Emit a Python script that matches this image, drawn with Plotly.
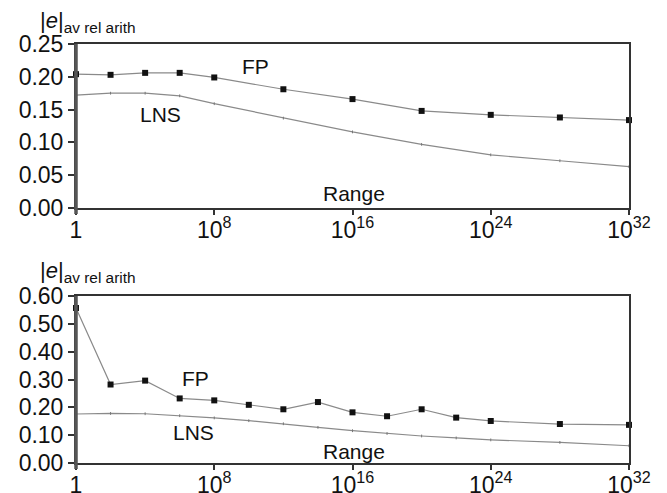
import plotly.graph_objects as go

# Range exponents (x = 10**exp)
top_exp = [0, 2, 4, 6, 8, 12, 16, 20, 24, 28, 32]
top_fp = [0.204, 0.203, 0.206, 0.206, 0.199, 0.181, 0.166, 0.148, 0.142, 0.138, 0.134]
top_lns = [0.172, 0.175, 0.175, 0.171, 0.159, 0.137, 0.116, 0.097, 0.081, 0.072, 0.063]

bot_exp = [0, 2, 4, 6, 8, 10, 12, 14, 16, 18, 20, 22, 24, 28, 32]
bot_fp = [0.557, 0.282, 0.296, 0.232, 0.225, 0.209, 0.193, 0.219, 0.182, 0.168, 0.193, 0.163, 0.151, 0.140, 0.137]
bot_lns = [0.176, 0.178, 0.177, 0.170, 0.162, 0.152, 0.141, 0.128, 0.116, 0.106, 0.097, 0.090, 0.083, 0.074, 0.062]

x_tickvals = [1, 1e8, 1e16, 1e24, 1e32]
x_ticktext = ["1", "10<sup>8</sup>", "10<sup>16</sup>", "10<sup>24</sup>", "10<sup>32</sup>"]
top_yticks = [0, 0.05, 0.10, 0.15, 0.20, 0.25]
bot_yticks = [0, 0.10, 0.20, 0.30, 0.40, 0.50, 0.60]

FONT = "Liberation Sans, Arial, sans-serif"
LINE = "#8a8a8a"

fig = go.Figure()

def add_series(xs, fp, lns, xa, ya):
    x = [10.0 ** e for e in xs]
    fig.add_trace(go.Scatter(x=x, y=lns, mode="lines+markers", xaxis=xa, yaxis=ya,
                             line=dict(color=LINE, width=1.2),
                             marker=dict(symbol="line-ns", size=2, color="#777",
                                         line=dict(color="#777", width=1)),
                             cliponaxis=False, showlegend=False))
    fig.add_trace(go.Scatter(x=x, y=fp, mode="lines+markers", xaxis=xa, yaxis=ya,
                             line=dict(color=LINE, width=1.2),
                             marker=dict(symbol="square", size=6, color="#111"),
                             cliponaxis=False, showlegend=False))

add_series(top_exp, top_fp, top_lns, "x", "y")
add_series(bot_exp, bot_fp, bot_lns, "x2", "y2")

# page body has an 8px margin, so the figure is 8px smaller and shifted
W, H = 659, 485
OFF = 8
xdom = [(76 - OFF) / W, (629 - OFF) / W]
top_dom = [1 - (208 - OFF) / H, 1 - (44 - OFF) / H]
bot_dom = [1 - (463 - OFF) / H, 1 - (296 - OFF) / H]

xcommon = dict(type="log", range=[0, 32], tickvals=x_tickvals, ticktext=x_ticktext,
               showline=True, linecolor="#333", linewidth=2, mirror=True,
               ticks="outside", ticklen=5, tickwidth=2, tickcolor="#333",
               ticklabelstandoff=-5,
               showgrid=False, zeroline=False, domain=xdom, automargin=False,
               tickfont=dict(family=FONT, size=23, color="#111"))
ycommon = dict(showline=True, linecolor="#333", linewidth=2, mirror=True,
               ticks="outside", ticklen=6, tickwidth=2, tickcolor="#333",
               showgrid=False, zeroline=False, tickformat=".2f", automargin=False,
               tickfont=dict(family=FONT, size=23, color="#111"))

fig.update_layout(
    width=W, height=H, margin=dict(l=0, r=0, t=0, b=0),
    paper_bgcolor="white", plot_bgcolor="white",
    xaxis=dict(**xcommon, anchor="y"),
    xaxis2=dict(**xcommon, anchor="y2"),
    yaxis=dict(**ycommon, range=[0, 0.25], tickvals=top_yticks, domain=top_dom, anchor="x"),
    yaxis2=dict(**ycommon, range=[0, 0.6], tickvals=bot_yticks, domain=bot_dom, anchor="x2"),
)

# thicker left axis lines
for y0, y1 in (top_dom, bot_dom):
    fig.add_shape(type="line", xref="paper", yref="paper", x0=xdom[0], x1=xdom[0],
                  y0=y0 - 6 / H, y1=y1, line=dict(color="#555", width=3.5))

ytitle = "|<i>e</i>|<sub>av rel arith</sub>"
ann = [
    dict(text=ytitle, xref="paper", yref="paper", x=30 / W, y=1.0, yshift=2),
    dict(text=ytitle, xref="paper", yref="paper", x=30 / W, y=1 - 250 / H, yshift=2),
    dict(text="FP", xref="x", yref="y", x=10.4, y=0.215),
    dict(text="LNS", xref="x", yref="y", x=4.9, y=0.142),
    dict(text="Range", xref="x", yref="y", x=16.1, y=0.022),
    dict(text="FP", xref="x2", yref="y2", x=6.9, y=0.305),
    dict(text="LNS", xref="x2", yref="y2", x=6.8, y=0.11),
    dict(text="Range", xref="x2", yref="y2", x=16.1, y=0.04),
]
for a in ann:
    a["showarrow"] = False
    a["font"] = dict(family=FONT, size=21, color="#111")
    if a["xref"] == "paper":
        a["xanchor"] = "left"
        a["yanchor"] = "top"
        a["font"]["size"] = 22
    fig.add_annotation(**a)

fig.write_html("out.html")
